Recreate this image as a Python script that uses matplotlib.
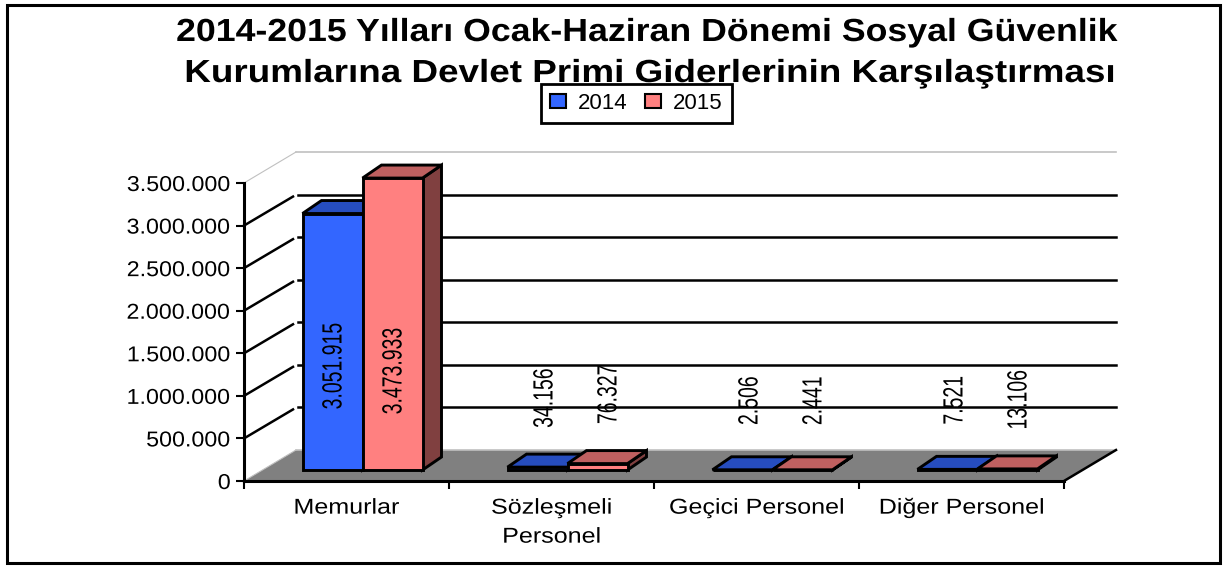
import matplotlib
matplotlib.use("Agg")
import matplotlib.pyplot as plt
import matplotlib.patheffects as pe
from matplotlib.patches import Patch, Rectangle
from matplotlib.transforms import Affine2D

plt.rcParams['font.family'] = ['Liberation Sans', 'DejaVu Sans']

categories = ['Memurlar', 'Sözleşmeli\nPersonel', 'Geçici Personel', 'Diğer Personel']
series_2014 = [3051915, 34156, 2506, 7521]
series_2015 = [3473933, 76327, 2441, 13106]
labels_2014 = ['3.051.915', '34.156', '2.506', '7.521']
labels_2015 = ['3.473.933', '76.327', '2.441', '13.106']
y_ticks = [0, 500000, 1000000, 1500000, 2000000, 2500000, 3000000, 3500000]
y_tick_labels = ['0', '500.000', '1.000.000', '1.500.000', '2.000.000',
                 '2.500.000', '3.000.000', '3.500.000']

W, H = 1228, 566
fig = plt.figure(figsize=(W / 100, H / 100), dpi=100, facecolor='white')
ax = fig.add_axes([244 / W, 1 - 481 / H, 820 / W, 298 / H])
ax.set_xlim(0, 4)
ax.set_ylim(0, 3500000)
ax.patch.set_visible(False)

# one pixel in data units, the 3d look is just offsets
px = 4 / 820
py = 3500000 / 298
lw = 1.8
bar_lw = 2.1
bar_scale = 0.987  # bars stand further back so they come out a bit shorter


class Stretch(pe.AbstractPathEffect):
    # the original text is squashed/widened, matplotlib has no font stretch
    def __init__(self, sx=1, sy=1, right=False):
        self.sx, self.sy, self.right = sx, sy, right

    def draw_path(self, renderer, gc, tpath, affine, rgbFace=None):
        b = tpath.get_extents(affine)
        cx = b.x1 if self.right else (b.x0 + b.x1) / 2
        cy = (b.y0 + b.y1) / 2
        t = affine + Affine2D().translate(-cx, -cy).scale(self.sx, self.sy).translate(cx, cy)
        renderer.draw_path(gc, tpath, t, rgbFace)


def poly(xs, ys, color, edge='black', z=3, width=bar_lw):
    ax.fill(xs, ys, facecolor=color, edgecolor=edge, linewidth=width,
            joinstyle='miter', clip_on=False, zorder=z)


# floor
wall_x, wall_y = 52 * px, 31 * py
poly([0, 4, 4 + wall_x, wall_x], [0, 0, wall_y, wall_y], '#808080', edge='none', z=1)
ax.plot([4, 4 + wall_x], [0, wall_y], color='black', lw=lw, clip_on=False, zorder=2)

# walls and grid
for v in y_ticks:
    if v in (0, 3500000):
        ax.plot([0, wall_x], [v, v + wall_y], color='#c0c0c0', lw=0.8, clip_on=False, zorder=1)
        ax.plot([wall_x, 4 + wall_x], [v + wall_y, v + wall_y], color='#c0c0c0', lw=1.2,
                clip_on=False, zorder=1)
    else:
        ax.plot([0, wall_x - 3 * px], [v, v + wall_y - 2 * py], color='black', lw=lw,
                clip_on=False, zorder=1)
        ax.plot([wall_x + 2 * px, 4 + wall_x], [v + wall_y, v + wall_y], color='black', lw=lw,
                clip_on=False, zorder=1)

# bars
bar_w = 60 * px
off_x, off_y = 16 * px, 11 * py
dep_x, dep_y = 19 * px, 13 * py
for i in range(4):
    c = i + 0.5 + off_x
    for left, value, front, top, side in [
        (c - bar_w, series_2014[i], '#3366ff', '#264dbf', '#1a3380'),
        (c, series_2015[i], '#ff8080', '#bf6060', '#804040'),
    ]:
        val = value * bar_scale
        right = left + bar_w
        poly([right, right + dep_x, right + dep_x, right],
             [off_y, off_y + dep_y, off_y + dep_y + val, off_y + val], side, z=3)
        poly([left, right, right + dep_x, left + dep_x],
             [off_y + val, off_y + val, off_y + val + dep_y, off_y + val + dep_y], top, z=3)
        ax.bar(left, val, bar_w, bottom=off_y, align='edge', color=front, edgecolor='black',
               linewidth=bar_lw, clip_on=False, zorder=4)

# value labels, the big ones sit inside the bars
narrow = [Stretch(sy=0.7)]
for i in range(4):
    c = i + 0.5 + off_x
    for x, val, txt, shift, lift in [
        (c - bar_w / 2, series_2014[i], labels_2014[i], 8, 104),
        (c + bar_w / 2, series_2015[i], labels_2015[i], 12, 99),
    ]:
        if val > 1000000:
            ax.text(x + 2 * px, off_y + lift * py, txt, rotation=90, ha='center', va='center',
                    fontsize=20, zorder=6, path_effects=narrow)
        else:
            ax.text(x + shift * px, val + off_y + 69 * py, txt, rotation=90, ha='center',
                    va='center', fontsize=20, zorder=6, path_effects=narrow)

# axes
for s in ('top', 'right'):
    ax.spines[s].set_visible(False)
for s in ('left', 'bottom'):
    ax.spines[s].set_linewidth(2.2)
    ax.spines[s].set_zorder(5)
ax.set_yticks(y_ticks)
ax.set_yticklabels(y_tick_labels, fontsize=15.5)
ax.tick_params(axis='y', length=6, width=1.5, pad=3.5)
for t in ax.get_yticklabels():
    t.set_path_effects([Stretch(sx=1.08, right=True)])
ax.set_xticks([0, 1, 2, 3, 4])
ax.set_xticklabels([])
ax.set_xticks([0.5, 1.5, 2.5, 3.5], minor=True)
ax.set_xticklabels(categories, minor=True, fontsize=15.5, linespacing=1.5)
ax.tick_params(axis='x', which='major', length=6, width=1.5)
ax.tick_params(axis='x', which='minor', length=0, pad=12)
for t in ax.get_xticklabels(minor=True):
    t.set_path_effects([Stretch(sx=1.165)])

fig.text(647 / W, 1 - 33 / H, '2014-2015 Yılları Ocak-Haziran Dönemi Sosyal Güvenlik',
         ha='center', va='center', fontsize=23, fontweight='bold',
         path_effects=[Stretch(sx=1.117)])
fig.text(650 / W, 1 - 74 / H, 'Kurumlarına Devlet Primi Giderlerinin Karşılaştırması',
         ha='center', va='center', fontsize=23, fontweight='bold',
         path_effects=[Stretch(sx=1.153)])

handles = [Patch(facecolor='#3366ff', edgecolor='black', linewidth=1.5, label='2014'),
           Patch(facecolor='#ff8080', edgecolor='black', linewidth=1.5, label='2015')]
leg = fig.legend(handles=handles, ncol=2, loc='center', bbox_to_anchor=(636.5 / W, 1 - 103.5 / H),
                 fontsize=16, fancybox=False, framealpha=1, edgecolor='black',
                 handlelength=0.7, handleheight=0.6, handletextpad=0.55, columnspacing=0.8,
                 borderpad=0.42, borderaxespad=0)
leg.get_frame().set_linewidth(2)
leg.set_zorder(10)

fig.add_artist(Rectangle((7 / W, 1 - 563 / H), 1213 / W, 558 / H, fill=False, edgecolor='black',
                         linewidth=2.2, transform=fig.transFigure))

fig.savefig('out.png', dpi=100)
